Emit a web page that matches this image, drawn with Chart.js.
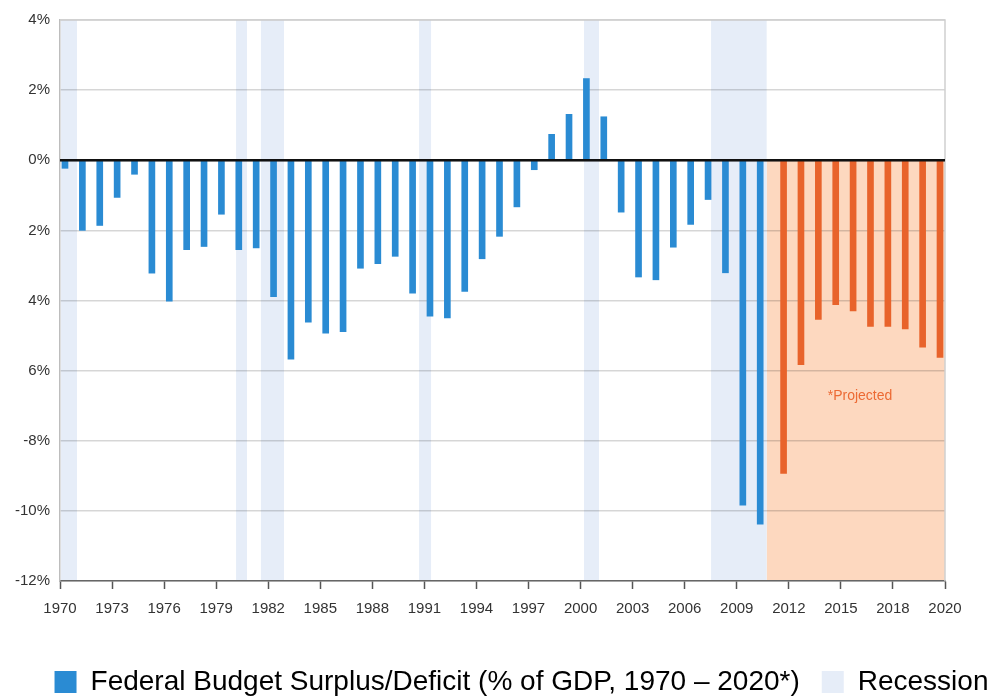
<!DOCTYPE html>
<html>
<head>
<meta charset="utf-8">
<title>Federal Budget Surplus/Deficit</title>
<script src="https://cdn.jsdelivr.net/npm/chart.js@4.4.1/dist/chart.umd.min.js"></script>
<style>
  html, body { margin: 0; padding: 0; background: #ffffff; }
  #wrap { width: 991px; height: 697px; }
</style>
</head>
<body>
<div id="wrap"><canvas id="chart" width="991" height="697"></canvas></div>
<script>
// Budget balance as % of GDP, actual years
const actualYears = [1970, 1971, 1972, 1973, 1974, 1975, 1976, 1977, 1978, 1979,
                     1980, 1981, 1982, 1983, 1984, 1985, 1986, 1987, 1988, 1989,
                     1990, 1991, 1992, 1993, 1994, 1995, 1996, 1997, 1998, 1999,
                     2000, 2001, 2002, 2003, 2004, 2005, 2006, 2007, 2008, 2009, 2010];
const actualValues = [-0.23, -2.0, -1.86, -1.06, -0.4, -3.22, -4.02, -2.55, -2.46, -1.54,
                      -2.55, -2.5, -3.89, -5.67, -4.62, -4.93, -4.89, -3.08, -2.95, -2.74,
                      -3.79, -4.45, -4.5, -3.74, -2.81, -2.17, -1.33, -0.27, 0.74, 1.31,
                      2.33, 1.24, -1.48, -3.33, -3.41, -2.48, -1.83, -1.12, -3.21, -9.84, -10.38];

// Projected years
const projectedYears = [2011, 2012, 2013, 2014, 2015, 2016, 2017, 2018, 2019, 2020];
const projectedValues = [-8.93, -5.83, -4.54, -4.12, -4.3, -4.74, -4.74, -4.81, -5.33, -5.62];

// Axis labels
const xTickLabels = ['1970', '1973', '1976', '1979', '1982', '1985', '1988', '1991', '1994',
                     '1997', '2000', '2003', '2006', '2009', '2012', '2015', '2018', '2020'];
const yTickValues = [-12, -10, -8, -6, -4, -2, 0, 2, 4];
const yTickLabels = ['-12%', '-10%', '-8%', '6%', '4%', '2%', '0%', '2%', '4%'];

// Recession periods [start, end] on the year scale
const recessionStarts = [1969.6, 1979.67, 1981.1, 1990.2, 1999.69, 2007.0];
const recessionEnds   = [1970.52, 1980.3, 1982.43, 1990.89, 2000.55, 2010.2];

// Projection window and its note
const projectedFrom = 2010.2;
const projectedTo = 2020.46;
const projectedFloor = -12;
const noteYear = 2015.57;
const noteValue = -6.74;
const noteText = '*Projected';

const seriesLabel = 'Federal Budget Surplus/Deficit (% of GDP, 1970 \u2013 2020*)';
const recessionLabel = 'Recession';

const BLUE = '#2a8bd3';
const ORANGE = '#e8632b';
const PEACH = '#fdd8bf';
const RECESSION = '#e6edf8';
const FONT = '"Liberation Sans", Arial, Helvetica, sans-serif';

const toPoints = (xs, ys) => xs.map((x, i) => ({ x: x, y: ys[i] }));

// Shaded periods under the grid, zero line, frame and note above the bars
const overlays = {
  id: 'overlays',
  afterLayout(chart) {
    // nudge the legend row down and right, under the plot
    const lg = chart.legend;
    if (lg) {
      lg.left += 26; lg.right += 26;
      lg.top += 21; lg.bottom += 21;
    }
  },
  beforeDraw(chart) {
    const { ctx, chartArea: a, scales } = chart;
    const x = scales.x, y = scales.y;
    ctx.save();
    ctx.fillStyle = PEACH;
    const p0 = x.getPixelForValue(projectedFrom);
    const p1 = Math.min(x.getPixelForValue(projectedTo), a.right);
    const z = y.getPixelForValue(0);
    const f = y.getPixelForValue(projectedFloor);
    ctx.fillRect(p0, z, p1 - p0, f - z);
    ctx.fillStyle = RECESSION;
    recessionStarts.forEach((s, i) => {
      const l = Math.max(x.getPixelForValue(s), a.left);
      const r = Math.min(x.getPixelForValue(recessionEnds[i]), a.right);
      ctx.fillRect(l, a.top, r - l, a.bottom - a.top);
    });
    ctx.restore();
  },
  afterDatasetsDraw(chart) {
    const { ctx, chartArea: a, scales } = chart;
    const x = scales.x, y = scales.y;
    ctx.save();
    // frame top and right
    ctx.strokeStyle = '#cfcfcf';
    ctx.lineWidth = 1.5;
    ctx.beginPath();
    ctx.moveTo(a.left, a.top);
    ctx.lineTo(a.right, a.top);
    ctx.lineTo(a.right, a.bottom);
    ctx.stroke();
    // zero line
    const z = y.getPixelForValue(0);
    ctx.strokeStyle = '#111111';
    ctx.lineWidth = 2.5;
    ctx.beginPath();
    ctx.moveTo(a.left, z);
    ctx.lineTo(a.right, z);
    ctx.stroke();
    // projection note
    ctx.fillStyle = '#ec6a34';
    ctx.font = '14px ' + FONT;
    ctx.textAlign = 'center';
    ctx.textBaseline = 'middle';
    ctx.fillText(noteText, x.getPixelForValue(noteYear), y.getPixelForValue(noteValue));
    ctx.restore();
  }
};

new Chart(document.getElementById('chart'), {
  type: 'bar',
  data: {
    datasets: [
      {
        label: seriesLabel,
        data: toPoints(actualYears, actualValues),
        backgroundColor: BLUE,
        barThickness: 6,
        xAxisID: 'x',
        yAxisID: 'y'
      },
      {
        label: 'Projected',
        data: toPoints(projectedYears, projectedValues),
        backgroundColor: ORANGE,
        barThickness: 6,
        xAxisID: 'x',
        yAxisID: 'y'
      }
    ]
  },
  options: {
    responsive: false,
    animation: false,
    layout: { padding: { left: 0, right: 0, top: 20, bottom: 12 } },
    scales: {
      x: {
        type: 'linear',
        display: false,
        offset: false,
        bounds: 'data',
        min: 1969.54,
        max: 2020.46
      },
      xl: {
        type: 'category',
        position: 'bottom',
        labels: xTickLabels,
        offset: false,
        grid: {
          offset: false,
          drawOnChartArea: false,
          drawTicks: true,
          tickLength: 8,
          tickWidth: 1.5,
          tickColor: '#555555'
        },
        border: { display: true, color: '#666666', width: 1.5 },
        ticks: {
          autoSkip: false,
          maxRotation: 0,
          padding: 11,
          color: '#333333',
          font: { family: FONT, size: 15 }
        },
        afterFit(s) { s.height = 44; }
      },
      y: {
        type: 'linear',
        position: 'left',
        min: -12,
        max: 4,
        afterBuildTicks(s) { s.ticks = yTickValues.map(v => ({ value: v })); },
        grid: {
          color: 'rgba(0,0,0,0.16)',
          lineWidth: 1.5,
          drawTicks: false
        },
        border: { display: true, color: '#bdbdbd', width: 1.5 },
        ticks: {
          display: true,
          autoSkip: false,
          padding: 10,
          color: '#333333',
          font: { family: FONT, size: 15 },
          callback(v) {
            const i = yTickValues.indexOf(v);
            return i >= 0 ? yTickLabels[i] : '';
          }
        },
        afterFit(s) { s.width = 60; }
      },
      yr: {
        type: 'linear',
        position: 'right',
        min: -12,
        max: 4,
        grid: { drawOnChartArea: false, drawTicks: false },
        border: { display: false },
        ticks: { display: false },
        afterFit(s) { s.width = 46; }
      }
    },
    plugins: {
      tooltip: { enabled: false },
      legend: {
        position: 'bottom',
        align: 'center',
        labels: {
          color: '#222222',
          font: { family: FONT, size: 28 },
          boxWidth: 22,
          boxHeight: 22,
          padding: 22,
          generateLabels() {
            return [
              { text: seriesLabel, fillStyle: BLUE, strokeStyle: BLUE, lineWidth: 0, datasetIndex: 0 },
              { text: recessionLabel, fillStyle: RECESSION, strokeStyle: RECESSION, lineWidth: 0, datasetIndex: 1 }
            ];
          }
        },
        onClick() {}
      }
    }
  },
  plugins: [overlays]
});
</script>
</body>
</html>
